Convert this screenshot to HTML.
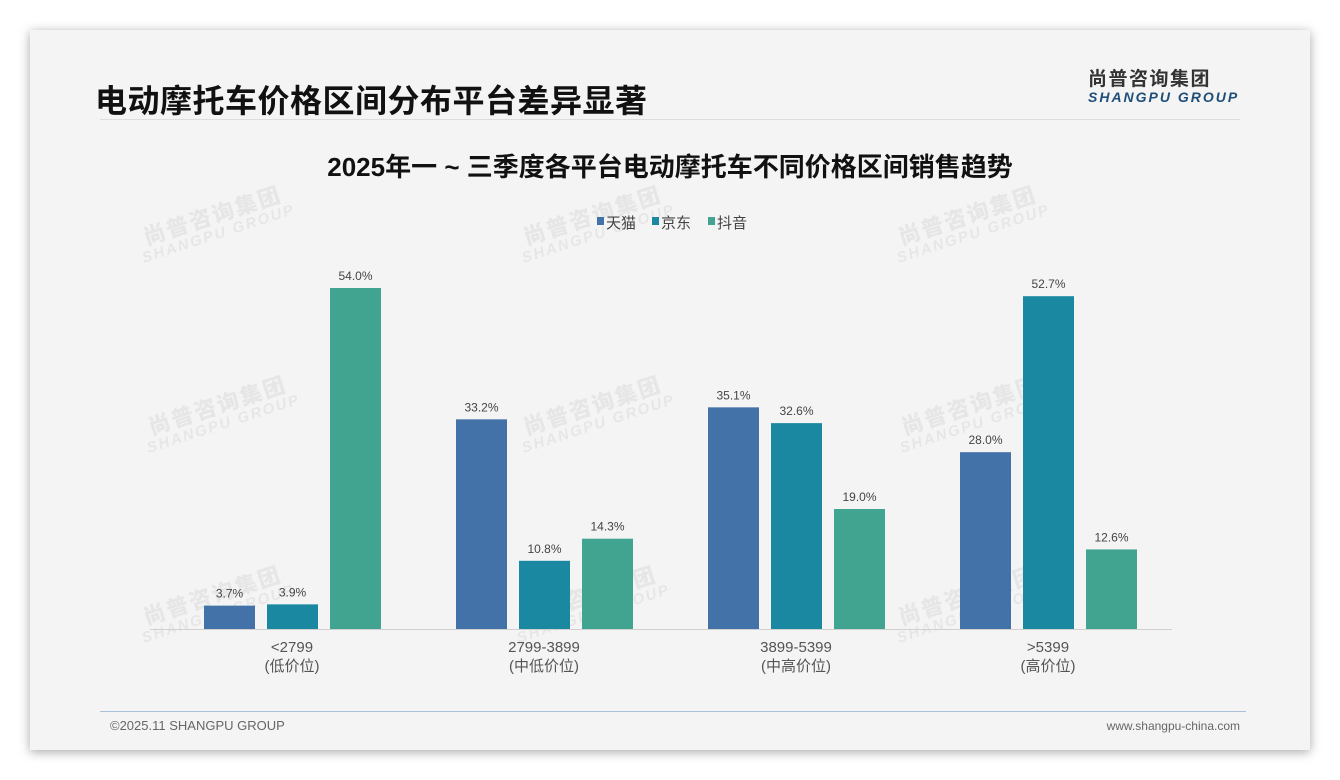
<!DOCTYPE html>
<html><head><meta charset="utf-8"><style>
body{margin:0;width:1340px;height:780px;background:#fff;position:relative;overflow:hidden;font-family:"Liberation Sans","Noto Sans CJK SC",sans-serif}
#card{position:absolute;left:30px;top:30px;width:1280px;height:720px;background:#f4f4f4;box-shadow:0 2px 10px rgba(0,0,0,.35)}
.wm{position:absolute;transform:rotate(-18deg);color:#000;opacity:.05;font-weight:bold;text-align:center;line-height:1}
.wm b{display:block;font-size:22px;letter-spacing:2px}.wm i{display:block;font-size:15px;letter-spacing:2px;font-style:italic}
</style></head><body>
<div id="card"></div>
<div style="position:absolute;left:95px;top:76px;font-size:32px;font-weight:bold;color:#111;letter-spacing:0.5px">电动摩托车价格区间分布平台差异显著</div>
<div style="position:absolute;left:100px;top:119px;width:1140px;height:1px;background:#ddd"></div>
<div style="position:absolute;left:1088px;top:64px;text-align:left">
<div style="font-size:19px;font-weight:bold;color:#333;letter-spacing:1.5px">尚普咨询集团</div>
<div style="font-size:14px;font-weight:bold;font-style:italic;color:#1f4e79;letter-spacing:2px;margin-top:-2px">SHANGPU GROUP</div></div>
<div style="position:absolute;left:100px;top:711px;width:1146px;height:1px;background:#a9c0d8"></div>
<div style="position:absolute;left:110px;top:718px;font-size:13px;color:#666">©2025.11 SHANGPU GROUP</div>
<div style="position:absolute;right:100px;top:719px;font-size:12px;color:#666">www.shangpu-china.com</div>
<div class="wm" style="left:135px;top:205px"><b>尚普咨询集团</b><i>SHANGPU GROUP</i></div>
<div class="wm" style="left:515px;top:205px"><b>尚普咨询集团</b><i>SHANGPU GROUP</i></div>
<div class="wm" style="left:890px;top:205px"><b>尚普咨询集团</b><i>SHANGPU GROUP</i></div>
<div class="wm" style="left:140px;top:395px"><b>尚普咨询集团</b><i>SHANGPU GROUP</i></div>
<div class="wm" style="left:515px;top:395px"><b>尚普咨询集团</b><i>SHANGPU GROUP</i></div>
<div class="wm" style="left:893px;top:395px"><b>尚普咨询集团</b><i>SHANGPU GROUP</i></div>
<div class="wm" style="left:135px;top:585px"><b>尚普咨询集团</b><i>SHANGPU GROUP</i></div>
<div class="wm" style="left:510px;top:585px"><b>尚普咨询集团</b><i>SHANGPU GROUP</i></div>
<div class="wm" style="left:890px;top:585px"><b>尚普咨询集团</b><i>SHANGPU GROUP</i></div>
<svg id="chart" width="1340" height="780" style="position:absolute;left:0;top:0" font-family="Liberation Sans, Noto Sans CJK SC, sans-serif"></svg>
<script>
const categories=["<2799","2799-3899","3899-5399",">5399"];
const subLabels=["(低价位)","(中低价位)","(中高价位)","(高价位)"];
const seriesNames=["天猫","京东","抖音"];
const tmall=[3.7,33.2,35.1,28.0];
const jd=[3.9,10.8,32.6,52.7];
const douyin=[54.0,14.3,19.0,12.6];
const series=[tmall,jd,douyin];
const colors=["#4272a8","#1a88a0","#40a490"];
const svg=document.getElementById('chart');
const NS="http://www.w3.org/2000/svg";
const base=629,pxPer=6.315;
const y=v=>base-v*pxPer;
const gx=i=>292+i*252;
function mk(t,a){const e=document.createElementNS(NS,t);for(const k in a)e.setAttribute(k,a[k]);svg.appendChild(e);return e;}
let t=mk('text',{x:670,y:176,'text-anchor':'middle','font-size':26,'font-weight':'bold',fill:'#111'});t.textContent="2025年一 ~ 三季度各平台电动摩托车不同价格区间销售趋势";


const lx=[597,652,708];
seriesNames.forEach((n,i)=>{
const r=mk('rect',{x:lx[i],y:217,width:7,height:8,fill:colors[i]});


const tx=mk('text',{x:lx[i]+9,y:228,'font-size':15,fill:'#444'});tx.textContent=n;


});
const ax=mk('line',{x1:150,x2:1172,y1:base+0.5,y2:base+0.5,stroke:'#d0d0d0','stroke-width':1});


categories.forEach((c,i)=>{
series.forEach((s,j)=>{
const x=gx(i)-88+j*63;
const r=mk('rect',{x:x,y:y(s[i]),width:51,height:base-y(s[i]),fill:colors[j]});


const l=mk('text',{x:x+25.5,y:y(s[i])-8,'text-anchor':'middle','font-size':12,fill:'#444'});l.textContent=s[i].toFixed(1)+'%';


});
const a=mk('text',{x:gx(i),y:652,'text-anchor':'middle','font-size':15,fill:'#555'});a.textContent=c;


const b=mk('text',{x:gx(i),y:671,'text-anchor':'middle','font-size':15,fill:'#555'});b.textContent=subLabels[i];


});
</script>
</body></html>
